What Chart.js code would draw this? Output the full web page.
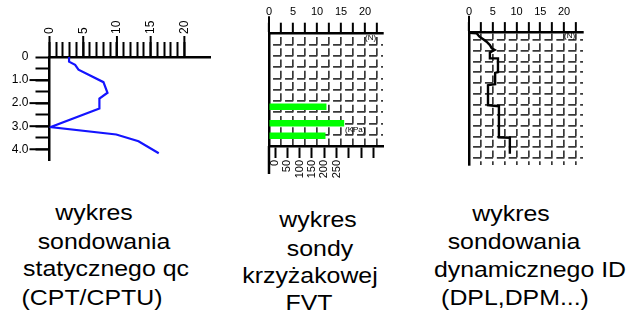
<!DOCTYPE html>
<html>
<head>
<meta charset="utf-8">
<script src="https://cdn.jsdelivr.net/npm/chart.js@4.4.0/dist/chart.umd.min.js"></script>
<style>
  html, body { margin:0; padding:0; background:#fff; }
  #wrap { position:relative; width:637px; height:320px; overflow:hidden; background:#fff; }
  canvas { position:absolute; top:0; }
  .txt { position:absolute; white-space:nowrap; font-family:'Liberation Sans', Arial, sans-serif;
         font-size:22px; line-height:22px; color:#000; transform:translateX(-50%) scaleX(1.13); }
  .unit { position:absolute; white-space:nowrap; font-family:'Liberation Sans', Arial, sans-serif;
          font-size:8px; line-height:8px; color:#000; }
</style>
</head>
<body>
<div id="wrap">
  <canvas id="cpt" width="220" height="175" style="left:0px"></canvas>
  <canvas id="fvt" width="160" height="190" style="left:240px"></canvas>
  <canvas id="dpl" width="160" height="180" style="left:440px"></canvas>

  <div class="unit" style="left:365px;top:34px">(N)</div>
  <div class="unit" style="left:345px;top:126px">(KPa)</div>
  <div class="unit" style="left:564px;top:32px">(N)</div>

  <div class="txt" style="left:94px;top:202px">wykres</div>
  <div class="txt" style="left:104px;top:231px">sondowania</div>
  <div class="txt" style="left:106px;top:258px">statycznego qc</div>
  <div class="txt" style="left:92px;top:287px">(CPT/CPTU)</div>

  <div class="txt" style="left:318px;top:209px">wykres</div>
  <div class="txt" style="left:320px;top:238px">sondy</div>
  <div class="txt" style="left:310px;top:265px">krzyżakowej</div>
  <div class="txt" style="left:309px;top:292px">FVT</div>

  <div class="txt" style="left:511px;top:203px">wykres</div>
  <div class="txt" style="left:514px;top:231px">sondowania</div>
  <div class="txt" style="left:530px;top:259px">dynamicznego ID</div>
  <div class="txt" style="left:515px;top:287px">(DPL,DPM...)</div>
</div>

<script>
// CPT: qc against depth [m]
const cptDepth = [0, 0.2, 0.34, 0.55, 1.09, 1.55, 1.8, 2.23, 3.04, 3.36, 3.65, 4.17];
const cptQc    = [2.9, 2.9, 3.8, 4.3, 8.0, 8.6, 7.4, 7.4, 0.1, 9.9, 13.2, 16.2];
const cptQcTicks = [0,1,2,3,4,5,6,7,8,9,10,11,12,13,14,15,16,17,18,19,20];
const cptQcLabels = [0, 5, 10, 15, 20];
const cptDepthTicks = [0, 0.5, 1, 1.5, 2, 2.5, 3, 3.5, 4];
const cptDepthMajor = [0, 1, 2, 3, 4];
const cptDepthLabels = ['0', '1.0', '2.0', '3.0', '4.0'];

// FVT: three shear readings, rows of the grid
const fvtRows   = [6.52, 7.98, 9.09];
const fvtValues = [11.9, 15.6, 11.7];
const fvtTopTicks = [0, 2.5, 5, 7.5, 10, 12.5, 15, 17.5, 20, 22.5];
const fvtTopLabels = [0, 5, 10, 15, 20];
const fvtKpaTicks = [0, 50, 100, 150, 200, 250, 300, 350, 400];
const fvtKpaLabels = [0, 50, 100, 150, 200, 250];
const fvtRowLines = [1, 2, 3, 4, 5, 6, 7, 8, 9];

// DPL/DPM: blow count N against depth (grid rows)
const dplN     = [0, 1.6, 2.2, 3.0, 3.7, 4.4, 4.8, 5.4, 4.4, 4.4, 6.1, 6.1, 5.5, 5.5, 4.0, 4.0, 6.3, 6.3, 8.6, 8.6];
const dplDepth = [-0.68, -0.63, -0.31, -0.07, 0.16, 0.47, 0.78, 0.93, 1.17, 1.71, 1.71, 2.99, 3.06, 4.11, 4.21, 6.07, 6.17, 9.07, 9.11, 10.59];
const dplTopTicks = [0, 2.5, 5, 7.5, 10, 12.5, 15, 17.5, 20, 22.5];
const dplTopLabels = [0, 5, 10, 15, 20];
const dplRowLines = [0, 1, 2, 3, 4, 5, 6, 7, 8, 9, 10, 11];

Chart.defaults.font.family = "'Liberation Sans', Arial, sans-serif";
Chart.defaults.color = '#000';

const gridGray = '#383838';

// longer tick marks for labelled values
function longTicks(items) {
  return {
    id: 'longTicks',
    afterDraw(chart) {
      const ctx = chart.ctx, a = chart.chartArea;
      ctx.save();
      ctx.strokeStyle = '#000';
      items.forEach(it => {
        const sc = chart.scales[it.scale];
        ctx.lineWidth = it.width || 2;
        it.values.forEach(v => {
          const p = sc.getPixelForValue(v);
          ctx.beginPath();
          if (it.side === 'top') { ctx.moveTo(p, a.top); ctx.lineTo(p, a.top - it.len); }
          else if (it.side === 'bottom') { ctx.moveTo(p, a.bottom); ctx.lineTo(p, a.bottom + it.len); }
          else { ctx.moveTo(a.left, p); ctx.lineTo(a.left - it.len, p); }
          ctx.stroke();
        });
      });
      ctx.restore();
    }
  };
}

const base = {
  responsive: false,
  animation: false,
  events: [],
  plugins: { legend: { display: false }, tooltip: { enabled: false } }
};

// chart 1
new Chart(document.getElementById('cpt'), {
  type: 'line',
  data: {
    datasets: [{
      data: cptQc.map((q, i) => ({ x: q, y: cptDepth[i] })),
      borderColor: '#1414ff',
      borderWidth: 2.2,
      pointRadius: 0,
      tension: 0,
      fill: false
    }]
  },
  options: {
    ...base,
    layout: { padding: { left: 0, top: 0, right: 10, bottom: 12 } },
    scales: {
      x: {
        type: 'linear', position: 'top', min: 0, max: 23.8,
        afterBuildTicks: s => { s.ticks = cptQcTicks.map(v => ({ value: v })); },
        afterFit: s => { s.height = 57; },
        grid: { drawOnChartArea: false, tickLength: 15, tickWidth: 2, tickColor: '#000' },
        border: { color: '#000', width: 2.5 },
        ticks: { autoSkip: false, minRotation: 90, maxRotation: 90, padding: 8, labelOffset: 14.4, font: { size: 12 },
                 callback: v => cptQcLabels.includes(v) ? String(v) : '' }
      },
      y: {
        type: 'linear', position: 'left', reverse: true, min: 0, max: 4.5,
        afterBuildTicks: s => { s.ticks = cptDepthTicks.map(v => ({ value: v })); },
        afterFit: s => { s.width = 49.5; },
        grid: { drawOnChartArea: false, tickLength: 14, tickWidth: 2, tickColor: '#000' },
        border: { color: '#000', width: 2.5 },
        ticks: { autoSkip: false, padding: 7, font: { size: 12 },
                 callback: v => { const k = cptDepthMajor.indexOf(v); return k < 0 ? '' : cptDepthLabels[k]; } }
      }
    }
  },
  plugins: [longTicks([
    { scale: 'x', side: 'top', values: cptQcLabels, len: 21 },
    { scale: 'y', side: 'left', values: [1, 2, 3, 4], len: 20 }
  ])]
});

// chart 2
new Chart(document.getElementById('fvt'), {
  type: 'bar',
  data: {
    datasets: [{
      data: fvtValues.map((v, i) => ({ x: v, y: fvtRows[i] })),
      xAxisID: 'x', yAxisID: 'y',
      backgroundColor: '#00ff00',
      borderWidth: 0,
      barThickness: 6
    }]
  },
  options: {
    ...base,
    indexAxis: 'y',
    layout: { padding: { left: 0, top: 0, right: 17, bottom: 0 } },
    scales: {
      x: {
        type: 'linear', position: 'top', min: 0, max: 23.75,
        afterBuildTicks: s => { s.ticks = fvtTopTicks.map(v => ({ value: v })); },
        afterFit: s => { s.height = 33.3; },
        grid: { color: gridGray, lineWidth: 1.7, tickLength: 10.6, tickWidth: 2, tickColor: '#000' },
        border: { color: '#000', width: 2.5, dash: [7.5, 3.77], dashOffset: 8.75 },
        ticks: { autoSkip: false, maxRotation: 0, padding: 4, font: { size: 11 },
                 callback: v => fvtTopLabels.includes(v) ? String(v) : '' }
      },
      x2: {
        type: 'linear', position: 'bottom', min: -25, max: 439,
        afterBuildTicks: s => { s.ticks = fvtKpaTicks.map(v => ({ value: v })); },
        afterFit: s => { s.height = 44; },
        grid: { drawOnChartArea: false, tickLength: 12, tickWidth: 2, tickColor: '#000' },
        border: { color: '#000', width: 2.5 },
        ticks: { autoSkip: false, minRotation: 90, maxRotation: 90, padding: 2, font: { size: 11 },
                 callback: v => fvtKpaLabels.includes(v) ? String(v) : '' }
      },
      y: {
        type: 'linear', position: 'left', reverse: true, min: 0, max: 10,
        offset: false,
        afterBuildTicks: s => { s.ticks = fvtRowLines.map(v => ({ value: v })); },
        afterFit: s => { s.width = 29; },
        grid: { offset: false, color: gridGray, lineWidth: 1.7, drawTicks: false },
        border: { color: '#000', width: 2.5, dash: [8.2, 3.8], dashOffset: 9.45 },
        ticks: { display: false }
      }
    }
  },
  plugins: [longTicks([
    { scale: 'x', side: 'top', values: [0], len: 17 },
    { scale: 'x', side: 'bottom', values: [0], len: 28, width: 2.5 }
  ])]
});

// chart 3
new Chart(document.getElementById('dpl'), {
  type: 'line',
  data: {
    datasets: [{
      data: dplN.map((n, i) => ({ x: n, y: dplDepth[i] })),
      borderColor: '#000',
      borderWidth: 2.4,
      pointRadius: 0,
      tension: 0,
      fill: false
    }]
  },
  options: {
    ...base,
    layout: { padding: { left: 0, top: 0, right: 17, bottom: 15 } },
    scales: {
      x: {
        type: 'linear', position: 'top', min: 0, max: 24,
        afterBuildTicks: s => { s.ticks = dplTopTicks.map(v => ({ value: v })); },
        afterFit: s => { s.height = 32.7; },
        grid: { color: gridGray, lineWidth: 1.7, tickLength: 10.6, tickWidth: 2, tickColor: '#000' },
        border: { color: '#000', width: 2.5, dash: [7, 3.73], dashOffset: 0.95 },
        ticks: { autoSkip: false, maxRotation: 0, padding: 4, font: { size: 11 },
                 callback: v => dplTopLabels.includes(v) ? String(v) : '' }
      },
      y: {
        type: 'linear', position: 'left', reverse: true, min: -0.68, max: 11.65,
        afterBuildTicks: s => { s.ticks = dplRowLines.map(v => ({ value: v })); },
        afterFit: s => { s.width = 29; },
        grid: { color: gridGray, lineWidth: 1.7, drawTicks: false },
        border: { color: '#000', width: 2.5, dash: [8.1, 3.8], dashOffset: 9.35 },
        ticks: { display: false }
      }
    }
  },
  plugins: [longTicks([
    { scale: 'x', side: 'top', values: [0], len: 17 }
  ])]
});
</script>
</body>
</html>
